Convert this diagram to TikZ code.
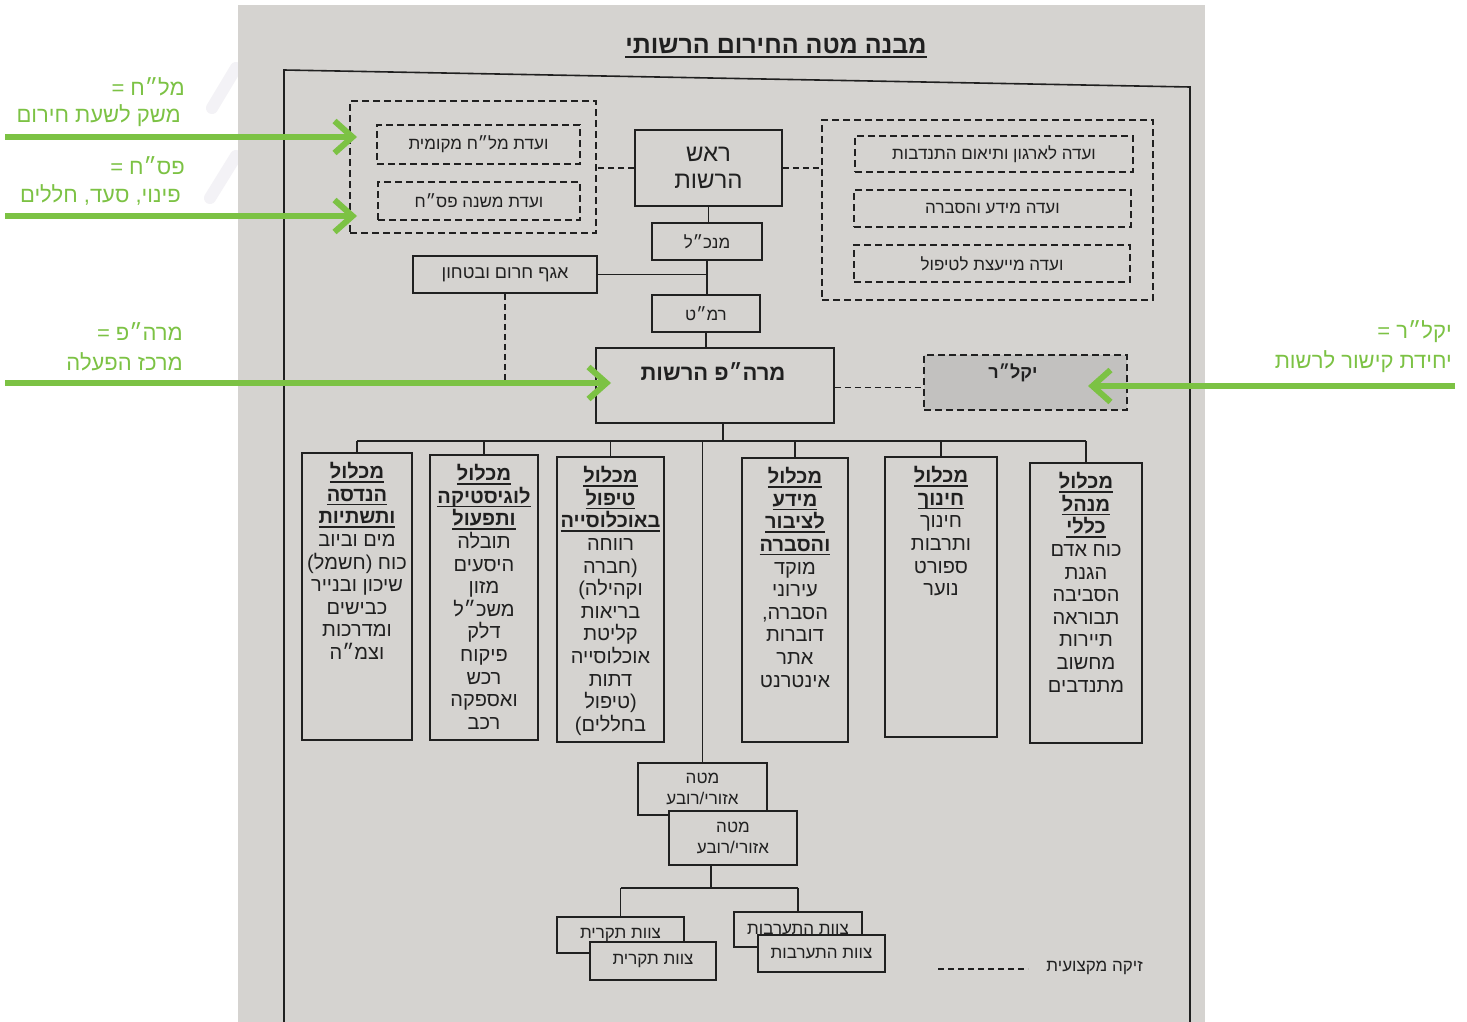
\documentclass[tikz,border=0pt]{standalone}
\usepackage{fontspec}
\usetikzlibrary{arrows.meta}
\newfontfamily\hebfont[Script=Hebrew]{Liberation Sans}
\TeXXeTstate=1
\newcommand\heb[1]{\beginR #1\endR}
\newcommand\hul[1]{{\setbox0=\hbox{\bfseries\heb{#1}}\rlap{\rule[-4pt]{\wd0}{1.5pt}}\box0}}
\definecolor{paper}{RGB}{213,211,208}
\definecolor{ink}{RGB}{32,32,32}
\definecolor{grn}{RGB}{124,194,68}
\definecolor{shade}{RGB}{194,193,191}
\definecolor{deco}{RGB}{243,242,246}
\begin{document}
\begin{tikzpicture}[x=1pt,y=-1pt,
 box/.style={draw=ink,line width=1.6pt,fill=paper,inner sep=0pt,align=center,text=ink,font=\hebfont\fontsize{17}{21}\selectfont},
 dbox/.style={box,dash pattern=on 7pt off 4pt},
 wire/.style={draw=ink,line width=1.6pt},
 dwire/.style={wire,dash pattern=on 6pt off 4pt},
 ctext/.style={align=center,text=ink,inner sep=0pt,font=\hebfont\fontsize{20}{22.6}\selectfont},
 gnote/.style={text=grn,align=right,anchor=east,inner sep=0pt,font=\hebfont\fontsize{22}{30}\selectfont},
 garrow/.style={draw=grn,line width=6pt,-{Straight Barb[length=18pt,width=32pt,line width=6pt]}},
]
\fill[white] (0,0) rectangle (1467,1022);
\useasboundingbox (0,0) rectangle (1467,1022);
\draw[deco,line width=12pt,line cap=round] (212,108) -- (236,68);
\draw[deco,line width=12pt,line cap=round] (210,198) -- (236,156);
\fill[paper] (238,5) rectangle (1205,1022);
\draw[wire] (284,1022) -- (284,70) -- (1190,87) -- (1190,1022);

\node[text=ink,inner sep=0pt,font=\hebfont\fontsize{25}{28}\selectfont] (title) at (776,48) {\hul{מבנה מטה החירום הרשותי}};

% committees
\node[dbox,minimum width=246pt,minimum height=132pt] (lgrp) at (473,167) {};
\node[dbox,minimum width=203pt,minimum height=39pt] (malach) at (478.5,144.5) {\heb{ועדת מל״ח מקומית}};
\node[dbox,minimum width=202pt,minimum height=38pt] (pasach) at (479,201) {\heb{ועדת משנה פס״ח}};
\node[dbox,minimum width=331pt,minimum height=180pt] (rgrp) at (987.5,210) {};
\node[dbox,minimum width=278pt,minimum height=36pt] (v1) at (994,154) {\heb{ועדה לארגון ותיאום התנדבות}};
\node[dbox,minimum width=277pt,minimum height=37pt] (v2) at (992.5,208.5) {\heb{ועדה מידע והסברה}};
\node[dbox,minimum width=276pt,minimum height=37pt] (v3) at (992,263.5) {\heb{ועדה מייעצת לטיפול}};

% spine
\node[box,minimum width=147pt,minimum height=76pt,font=\hebfont\fontsize{24}{27}\selectfont] (rosh) at (708.5,168) {\heb{ראש}\\\heb{הרשות}};
\node[box,minimum width=110pt,minimum height=37pt] (mankal) at (707,241.5) {\heb{מנכ״ל}};
\node[box,minimum width=184pt,minimum height=37pt,font=\hebfont\fontsize{18}{21}\selectfont] (agaf) at (505,274.5) {\heb{אגף חרום ובטחון}};
\node[box,minimum width=108pt,minimum height=37pt] (ramat) at (706,313.5) {\heb{רמ״ט}};
\node[box,minimum width=238pt,minimum height=75pt] (marhap) at (715,385.5) {};
\node[ctext,font=\hebfont\bfseries\fontsize{22}{26}\selectfont] (marhapt) at (713,372) {\heb{מרה״פ הרשות}};
\node[dbox,fill=shade,minimum width=203pt,minimum height=55pt] (yaklar) at (1025.5,382.5) {};
\node[ctext,font=\hebfont\bfseries\fontsize{18}{22}\selectfont] (yaklart) at (1013,373) {\heb{יקל״ר}};

% clusters
\node[box,minimum width=110pt,minimum height=287pt] (m1) at (357,596.5) {};
\node[box,minimum width=108pt,minimum height=285pt] (m2) at (484,597.5) {};
\node[box,minimum width=107pt,minimum height=285pt] (m3) at (610.5,599.5) {};
\node[box,minimum width=106pt,minimum height=284pt] (m4) at (795,600) {};
\node[box,minimum width=112pt,minimum height=280pt] (m5) at (941,597) {};
\node[box,minimum width=112pt,minimum height=280pt] (m6) at (1086,603) {};

\node[ctext,anchor=north,yshift=-10pt] (m1t) at (m1.north) {\hul{מכלול}\\\hul{הנדסה}\\\hul{ותשתיות}\\\heb{מים וביוב}\\\heb{כוח (חשמל)}\\\heb{שיכון ובנייר}\\\heb{כבישים}\\\heb{ומדרכות}\\\heb{וצמ״ה}};
\node[ctext,anchor=north,yshift=-10pt] (m2t) at (m2.north) {\hul{מכלול}\\\hul{לוגיסטיקה}\\\hul{ותפעול}\\\heb{תובלה}\\\heb{היסעים}\\\heb{מזון}\\\heb{משכ״ל}\\\heb{דלק}\\\heb{פיקוח}\\\heb{רכש}\\\heb{ואספקה}\\\heb{רכב}};
\node[ctext,anchor=north,yshift=-10pt] (m3t) at (m3.north) {\hul{מכלול}\\\hul{טיפול}\\\hul{באוכלוסייה}\\\heb{רווחה}\\\heb{(חברה}\\\heb{וקהילה)}\\\heb{בריאות}\\\heb{קליטת}\\\heb{אוכלוסייה}\\\heb{דתות}\\\heb{(טיפול}\\\heb{בחללים)}};
\node[ctext,anchor=north,yshift=-10pt] (m4t) at (m4.north) {\hul{מכלול}\\\hul{מידע}\\\hul{לציבור}\\\hul{והסברה}\\\heb{מוקד}\\\heb{עירוני}\\\heb{הסברה,}\\\heb{דוברות}\\\heb{אתר}\\\heb{אינטרנט}};
\node[ctext,anchor=north,yshift=-10pt] (m5t) at (m5.north) {\hul{מכלול}\\\hul{חינוך}\\\heb{חינוך}\\\heb{ותרבות}\\\heb{ספורט}\\\heb{נוער}};
\node[ctext,anchor=north,yshift=-10pt] (m6t) at (m6.north) {\hul{מכלול}\\\hul{מנהל}\\\hul{כללי}\\\heb{כוח אדם}\\\heb{הגנת}\\\heb{הסביבה}\\\heb{תבוראה}\\\heb{תיירות}\\\heb{מחשוב}\\\heb{מתנדבים}};

% regional
\node[box,minimum width=129pt,minimum height=52pt] (mateA) at (702.5,789) {\heb{מטה}\\\heb{אזורי/רובע}};
\node[box,minimum width=128pt,minimum height=54pt] (mateB) at (733,838) {\heb{מטה}\\\heb{אזורי/רובע}};
\node[box,minimum width=127pt,minimum height=36pt] (tA) at (620.5,935) {\heb{צוות תקרית}};
\node[box,minimum width=126pt,minimum height=38pt] (tB) at (653,961) {\heb{צוות תקרית}};
\node[box,minimum width=128pt,minimum height=35pt] (hA) at (798,929.5) {\heb{צוות התערבות}};
\node[box,minimum width=127pt,minimum height=37pt] (hB) at (821.5,953.5) {\heb{צוות התערבות}};

% connectors
\draw[dwire] (rosh.west) -- (rosh.west -| lgrp.east);
\draw[dwire] (rosh.east) -- (rosh.east -| rgrp.west);
\draw[wire] (rosh.south) -- (rosh.south |- mankal.north);
\draw[wire] (mankal.south) -- (mankal.south |- ramat.north);
\draw[wire] (agaf.east) -- (agaf.east -| mankal.south);
\draw[wire] (ramat.south) -- (ramat.south |- marhap.north);
\coordinate (agafend) at (505,380);
\draw[dwire] (agaf.south) -- (agafend);
\draw[dwire] ([yshift=-2pt]marhap.east) -- ([yshift=-2pt]marhap.east -| yaklar.west);
\coordinate (bus) at (0,441);
\draw[wire] ([xshift=8pt]marhap.south) -- ([xshift=8pt]marhap.south |- bus);
\draw[wire] (m1.north |- bus) -- (m6.north |- bus);
\foreach \m in {m1,m2,m3,m4,m5,m6} \draw[wire] (\m.north |- bus) -- (\m.north);
\draw[wire] (mateA.north |- bus) -- (mateA.north);
\coordinate (bus2) at (0,888);
\draw[wire] ([xshift=-22pt]mateB.south) -- ([xshift=-22pt]mateB.south |- bus2);
\draw[wire] (tA.north |- bus2) -- (hA.north |- bus2);
\draw[wire] (tA.north |- bus2) -- (tA.north);
\draw[wire] (hA.north |- bus2) -- (hA.north);

% legend
\coordinate (lg1) at (938,969);
\coordinate (lg2) at (1028,969);
\draw[dwire,line width=1.3pt] (lg1) -- (lg2);
\node[ctext,font=\hebfont\fontsize{17}{20}\selectfont,anchor=east] (legend) at (1143,968) {\heb{זיקה מקצועית}};

% green notes
\node[gnote] (n1a) at (185,87) {\heb{מל״ח =}};
\node[gnote] (n1b) at (181,116) {\heb{משק לשעת חירום}};
\node[gnote] (n2a) at (185,166) {\heb{פס״ח =}};
\node[gnote] (n2b) at (181,195) {\heb{פינוי, סעד, חללים}};
\node[gnote] (n3a) at (183,332) {\heb{מרה״פ =}};
\node[gnote] (n3b) at (183,362) {\heb{מרכז הפעלה}};
\node[gnote] (n4a) at (1452,332) {\heb{יקל״ר =}};
\node[gnote] (n4b) at (1452,362) {\heb{יחידת קישור לרשות}};
\coordinate (a1s) at (5,137); \coordinate (a1e) at (357,137);
\coordinate (a2s) at (5,216); \coordinate (a2e) at (357,216);
\coordinate (a3s) at (5,383); \coordinate (a3e) at (611,383);
\coordinate (a4s) at (1455,386); \coordinate (a4e) at (1088,386);
\draw[garrow] (a1s) -- (a1e);
\draw[garrow] (a2s) -- (a2e);
\draw[garrow] (a3s) -- (a3e);
\draw[garrow] (a4s) -- (a4e);
\end{tikzpicture}
\end{document}
